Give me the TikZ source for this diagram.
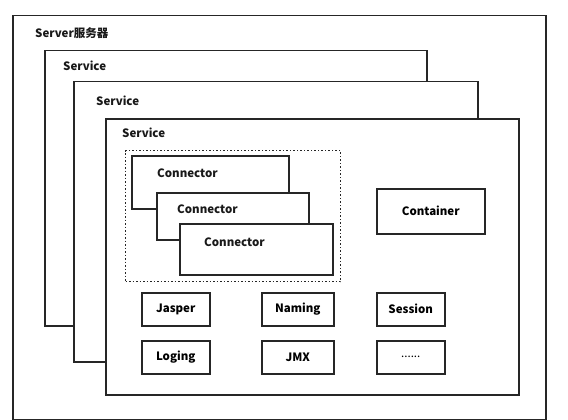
\documentclass[tikz,border=0pt]{standalone}
\usepackage{fontspec}
\setmainfont{Noto Sans CJK SC}
\usepackage{tikz}

\begin{document}
\begin{tikzpicture}[x=1pt, y=-1pt, font=\bfseries\fontsize{11.5}{13}\selectfont,
	frame/.style={draw=black!85, line width=1.5pt, fill=white, anchor=north west, inner sep=0pt},
	part/.style={frame, minimum width=68, minimum height=33},
	tag/.style={anchor=west, inner sep=0pt, text=black!90}]

	\useasboundingbox (0,0) rectangle (568,420);

	\node[frame, minimum width=533, minimum height=404] (server) at (12,15) {};
	\node[tag] (serverlabel) at (35,33) {Server服务器};

	\node[frame, minimum width=382, minimum height=275] (svc1) at (44,50) {};
	\node[tag] (svc1label) at (63,66) {Service};
	\node[frame, minimum width=404, minimum height=280] (svc2) at (73,81) {};
	\node[tag] (svc2label) at (96,101) {Service};
	\node[frame, minimum width=413, minimum height=276] (svc3) at (105,118) {};
	\node[tag] (svc3label) at (122,133) {Service};

	\node[frame, dotted, line width=1pt, minimum width=215, minimum height=131] (group) at (125,150) {};
	\node[frame, minimum width=157, minimum height=53] (conn1) at (131,155) {};
	\node[tag] (conn1label) at (157,173) {Connector};
	\node[frame, minimum width=152, minimum height=47] (conn2) at (156,192) {};
	\node[tag] (conn2label) at (177,209) {Connector};
	\node[frame, minimum width=153, minimum height=51] (conn3) at (179,223) {};
	\node[tag] (conn3label) at (204,242) {Connector};

	\node[frame, minimum width=108, minimum height=45] (container) at (376,188) {Container};

	\node[part] (jasper) at (141,292) {Jasper};
	\node[part, minimum width=72] (naming) at (261,292) {Naming};
	\node[part] (session) at (376,292) {Session};
	\node[part] (loging) at (141,340) {Loging};
	\node[part, minimum width=72] (jmx) at (261,340) {JMX};
	\node[part] (more) at (376,340) {\textmd{......}};
\end{tikzpicture}
\end{document}
